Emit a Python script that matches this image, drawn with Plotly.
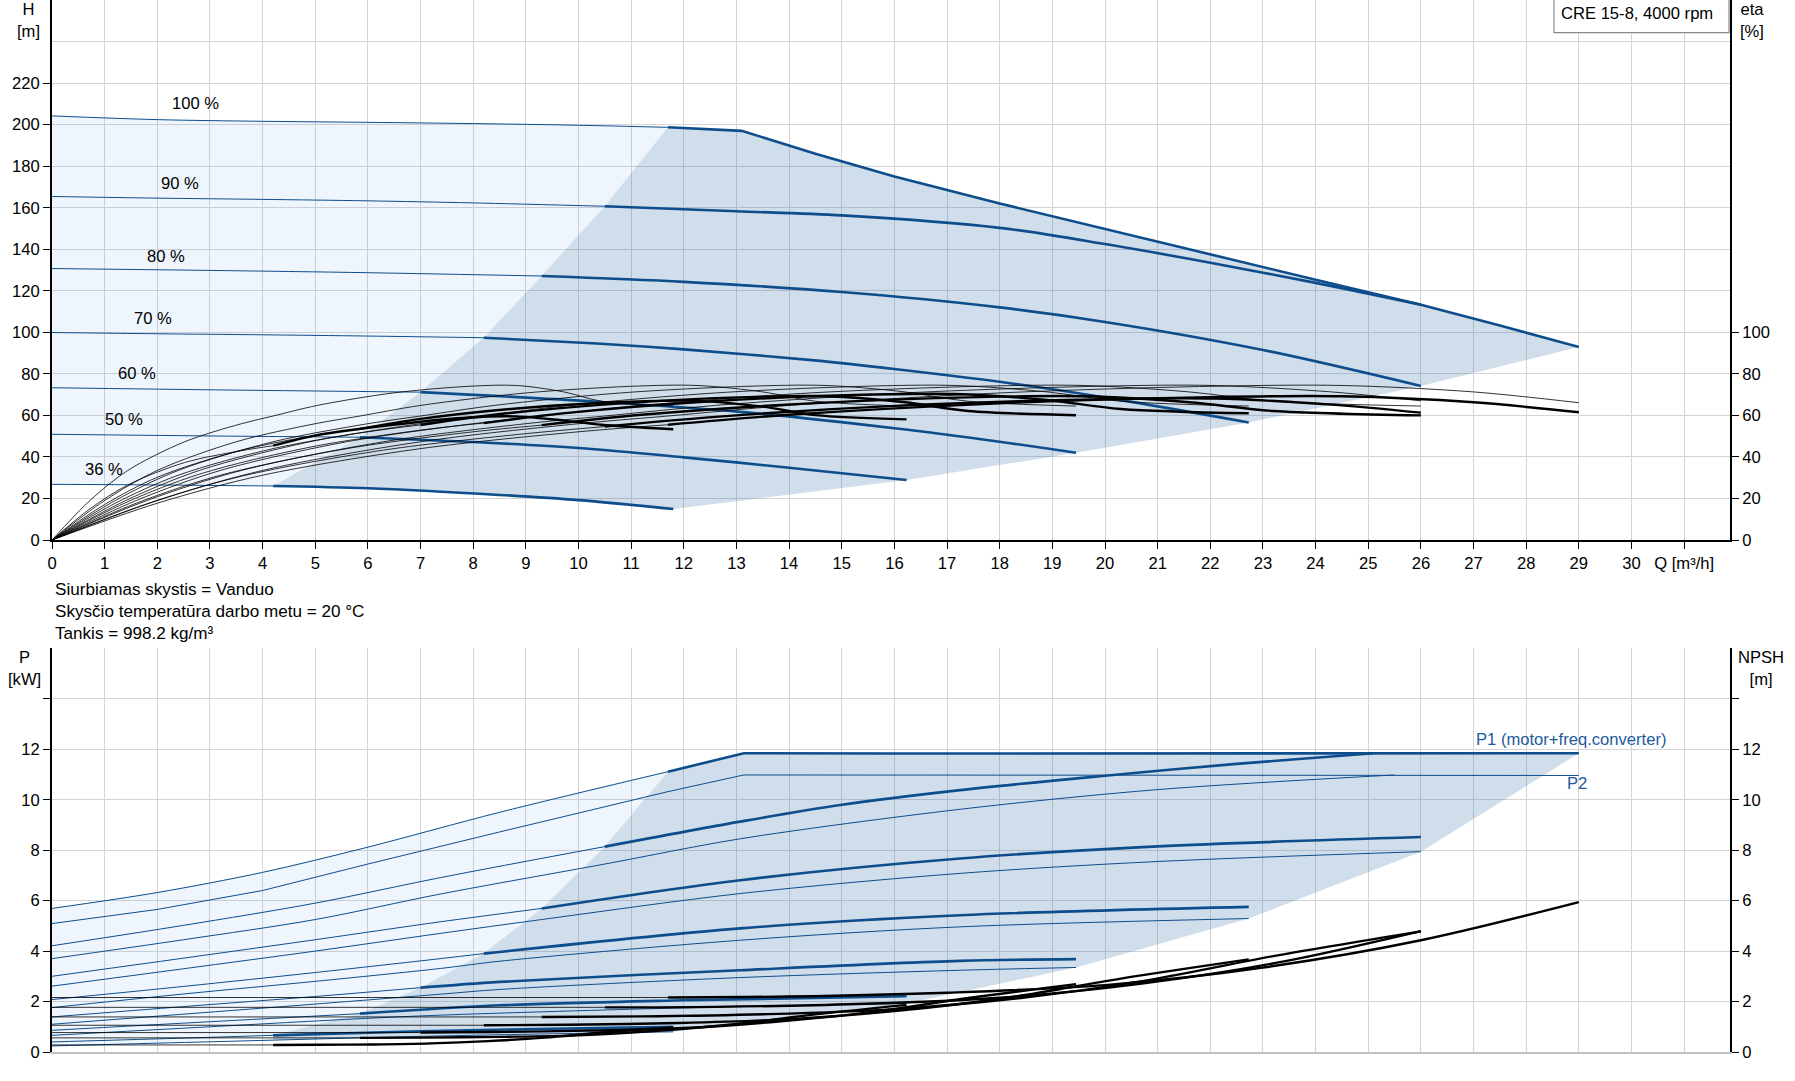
import plotly.graph_objects as go

# canvas / margins (px)
W, HT = 1795, 1081
ML, MR, MT, MB = 52, 65, 0, 29
PW, PH = W - ML - MR, HT - MT - MB

SPEEDS = [100, 90, 80, 70, 60, 50, 36]
SPEED_TEXT = ["100 %", "90 %", "80 %", "70 %", "60 %", "50 %", "36 %"]
# min. flow (start of the bold part) for every speed
QMIN = {100: 11.7, 90: 10.5, 80: 9.3, 70: 8.2, 60: 7.0, 50: 5.85, 36: 4.2}

# QH curves, Q [m3/h] / H [m]
QH_Q = {
    100: [0, 2, 4, 6, 8, 10, 11.7, 13.1, 14.5, 16, 18, 20, 22, 24, 26, 27.5, 29],
    90: [0, 2, 4, 6, 8, 10.5, 13, 15, 18, 20, 22, 24, 26],
    80: [0, 3, 6, 9.3, 12, 15, 18, 20, 23, 26],
    70: [0, 2, 4, 6, 8.2, 10.35, 12, 14.43, 16, 18.45, 20.5, 22.73],
    60: [0, 3.39, 7.0, 10.35, 13.07, 16, 18, 19.45],
    50: [0, 3.39, 5.85, 8, 10, 12, 14, 16.23],
    36: [0, 2, 4.2, 6, 8.5, 10, 11.8],
}
QH_H = {
    100: [204.2, 202.4, 201.6, 201.1, 200.5, 199.7, 198.7, 197.0, 186, 175, 162, 149.7, 137.4, 125.3, 113.3, 103.3, 92.9],
    90: [165.4, 164.6, 164.0, 163.3, 162.3, 160.7, 158.3, 156.3, 150.3, 142.5, 133.5, 123.8, 113.3],
    80: [130.7, 129.8, 128.7, 127.1, 124.3, 119.4, 112.0, 105.0, 91.5, 74.2],
    70: [99.9, 99.3, 98.8, 98.2, 97.4, 94.6, 91.8, 86.6, 82.3, 74.6, 66.5, 56.6],
    60: [73.3, 72.2, 71.2, 66.6, 61.7, 53.8, 47.3, 42.0],
    50: [50.9, 50.0, 49.5, 47.2, 44.3, 39.8, 34.8, 28.9],
    36: [26.8, 26.5, 26.0, 24.9, 21.7, 19.2, 14.9],
}

# efficiency curves, Q [m3/h] / eta [%]  (pump = thin, total = thin + bold)
ETA_Q = {
    100: [0, 2, 4, 7, 10, 11.7, 14, 18, 22, 24.5, 27, 29],
    90: [0, 1.8, 3.6, 6.3, 9, 10.5, 12.6, 16.2, 19.8, 22.05, 24.3, 26],
    80: [0, 1.6, 3.2, 5.6, 8, 9.3, 11.2, 14.4, 17.6, 19.6, 21.6, 23.2, 26],
    70: [0, 1.4, 2.8, 4.9, 7, 8.2, 9.8, 12.6, 15.4, 17.15, 18.9, 20.3, 22.73],
    60: [0, 1.2, 2.4, 4.2, 6, 7.0, 8.4, 10.8, 13.2, 14.7, 16.2, 17.4, 19.45],
    50: [0, 1, 2, 3.5, 5, 5.85, 7, 9, 11, 12.25, 13.5, 14.5, 16.23],
    36: [0, 0.72, 1.44, 2.52, 3.6, 4.2, 5.04, 6.48, 7.92, 8.82, 9.72, 10.44, 11.8],
}
ETA_PUMP = {
    100: [0, 19, 33.5, 47.3, 56, 59.7, 64.8, 70.8, 74, 74.4, 71.3, 66.1],
    90: [0, 19, 33.5, 47.3, 56, 59.7, 64.8, 70.8, 74, 74.4, 71.3, 67],
    80: [0, 19, 33.5, 47.3, 56, 59.7, 64.8, 70.8, 74, 74.4, 71.3, 66.8, 64.5],
    70: [0, 19, 33.5, 47.3, 56, 59.7, 64.8, 70.8, 74, 74.4, 71.3, 66.8, 64.5],
    60: [0, 19, 33.5, 47.3, 56, 59.7, 64.8, 70.8, 74, 74.4, 71.3, 66.8, 64.5],
    50: [0, 19, 33.5, 47.3, 56, 59.7, 64.8, 70.8, 74, 74.4, 71.3, 66.8, 64.5],
    36: [0, 19, 33.5, 47.3, 56, 59.7, 64.8, 70.8, 74, 74.4, 71.3, 66.8, 64.5],
}
ETA_TOTAL = {
    100: [0, 17.7, 31.2, 44, 52.1, 55.5, 60.3, 65.8, 68.8, 69.2, 66.3, 61.5],
    90: [0, 17.4, 30.7, 43.3, 51.2, 54.6, 59.3, 64.8, 67.7, 68.1, 65.2, 61.3],
    80: [0, 17.7, 31.2, 44, 52.1, 55.3, 60.3, 65.8, 68.8, 69.2, 66.3, 62.1, 60],
    70: [0, 18, 31.7, 44.7, 52.9, 56.3, 61.2, 66.9, 69.9, 70.3, 67.4, 63.1, 61],
    60: [0, 17.7, 31.2, 44, 52.1, 55.4, 60.3, 65.8, 68.8, 69.2, 66.3, 62.1, 60.1],
    50: [0, 17.1, 30.2, 42.6, 50.4, 53.5, 58.3, 63.7, 66.6, 67, 64.2, 60.1, 58.1],
    36: [0, 15, 26.5, 37.3, 43, 45.4, 50.5, 55.5, 59, 59.5, 57.5, 55.5, 53.3],
}

# power P1 (motor + converter), Q [m3/h] / P [kW]
P1_Q = {
    100: [0, 2, 4, 6, 8.5, 11.7, 13.14, 16, 20, 24, 29],
    90: [0, 2.5, 5, 7.375, 10.5, 13.07, 14.97, 17.25, 20, 22.5, 25.1],
    80: [0, 2.5, 5, 7.375, 9.3, 13.07, 17.25, 21, 26],
    70: [0, 2.5, 5, 7.375, 8.2, 13.07, 17.25, 22.73],
    60: [0, 2.5, 5, 7.0, 8.51, 13.07, 17.25, 19.45],
    50: [0, 3, 5.85, 8.51, 12, 16.23],
    36: [0, 2, 4.2, 7, 9.5, 11.8],
}
P1_P = {
    100: [5.69, 6.32, 7.12, 8.12, 9.5, 11.11, 11.84, 11.83, 11.83, 11.84, 11.84],
    90: [4.21, 5.02, 5.9, 6.91, 8.14, 9.13, 9.79, 10.38, 10.95, 11.42, 11.84],
    80: [3.0, 3.72, 4.45, 5.16, 5.69, 6.81, 7.67, 8.15, 8.52],
    70: [2.08, 2.6, 3.15, 3.70, 3.90, 4.90, 5.42, 5.75],
    60: [1.39, 1.8, 2.2, 2.55, 2.78, 3.24, 3.61, 3.68],
    50: [0.86, 1.2, 1.52, 1.85, 2.05, 2.21],
    36: [0.40, 0.52, 0.66, 0.82, 0.92, 1.0],
}
# shaft power P2
P2_Q = {
    100: [0, 2, 4, 6, 8.5, 11.7, 13.14, 20, 29],
    90: [0, 2.5, 5, 7.375, 10.5, 13.07, 17.25, 21, 25.5],
    80: [0, 2.5, 5, 7.375, 9.3, 13.07, 17.25, 21, 26],
    70: [0, 2.5, 5, 7.375, 8.51, 13.07, 17.25, 22.73],
    60: [0, 2.5, 5, 7.375, 8.51, 13.07, 17.25, 19.45],
    50: [0, 3, 5.85, 7.375, 12, 16.23],
    36: [0, 2, 4.2, 7, 9.5, 11.8],
}
P2_P = {
    100: [5.09, 5.65, 6.4, 7.45, 8.72, 10.32, 10.98, 10.97, 10.96],
    90: [3.70, 4.45, 5.25, 6.26, 7.45, 8.45, 9.62, 10.4, 10.98],
    80: [2.61, 3.3, 4.0, 4.70, 5.25, 6.28, 7.08, 7.55, 7.94],
    70: [1.76, 2.3, 2.8, 3.31, 3.6, 4.43, 4.96, 5.29],
    60: [1.10, 1.5, 1.9, 2.29, 2.48, 2.95, 3.24, 3.35],
    50: [0.66, 1.0, 1.32, 1.46, 1.75, 1.92],
    36: [0.24, 0.35, 0.47, 0.62, 0.72, 0.8],
}

# NPSH, Q [m3/h] / NPSH [m]
NPSH_Q = {
    100: [0, 11.7, 14, 17, 20, 23, 26, 29],
    90: [0, 10.5, 12.6, 15.3, 18, 20.7, 23.4, 26],
    80: [0, 9.3, 11.2, 13.6, 16, 18.4, 20.8, 23.2, 26],
    70: [0, 8.2, 9.8, 11.9, 14, 16.1, 18.2, 20.3, 22.73],
    60: [0, 7.0, 8.4, 10.2, 12, 13.8, 15.6, 17.4, 19.45],
    50: [0, 5.85, 7, 8.5, 10, 11.5, 13, 14.5, 16.23],
    36: [0, 4.2, 5.04, 6.12, 7.2, 8.28, 9.36, 10.44, 11.8],
}
NPSH_M = {
    100: [2.16, 2.16, 2.2, 2.35, 2.65, 3.35, 4.43, 5.94],
    90: [1.77, 1.77, 1.79, 1.90, 2.15, 2.71, 3.59, 4.79],
    80: [1.39, 1.39, 1.41, 1.50, 1.70, 2.14, 2.84, 3.80, 4.78],
    70: [1.06, 1.06, 1.08, 1.15, 1.30, 1.64, 2.17, 2.91, 3.67],
    60: [0.77, 0.77, 0.79, 0.85, 0.95, 1.21, 1.59, 2.14, 2.69],
    50: [0.56, 0.56, 0.57, 0.60, 0.66, 0.84, 1.11, 1.49, 1.87],
    36: [0.28, 0.28, 0.285, 0.30, 0.34, 0.43, 0.57, 0.77, 0.97],
}

Q_TICKS = list(range(0, 32))
Q_TICKTEXT = [str(v) for v in range(0, 31)] + ["Q [m³/h]"]
LABEL_POS = {100: (2.25, 210.2), 90: (2.04, 171.6), 80: (1.77, 136.7), 70: (1.52, 106.7),
             60: (1.22, 80.2), 50: (0.96, 58.2), 36: (0.58, 34.0)}

BLUE = "#0d4d8c"
FONT = "Liberation Sans, Arial, sans-serif"
FS = 16.6
GRID = "#d4d4d4"
LIGHT = "rgba(100,160,230,0.11)"
DARK = "rgba(40,100,160,0.22)"


def px_x(px):
    return (px - ML) / PW


def px_y(py):
    return (HT - MB - py) / PH


def at(q, v, x):
    return v[q.index(x)]


def thin_part(q, v, qmin):
    pts = [(a, b) for a, b in zip(q, v) if a <= qmin]
    return [p[0] for p in pts], [p[1] for p in pts]


def thick_part(q, v, qmin):
    pts = [(a, b) for a, b in zip(q, v) if a >= qmin]
    return [p[0] for p in pts], [p[1] for p in pts]


def line(fig, x, y, color, width, xa, ya, shape="spline"):
    ln = dict(color=color, width=width, shape=shape)
    if shape == "spline":
        ln["smoothing"] = 0.9
    fig.add_trace(go.Scatter(x=x, y=y, mode="lines", xaxis=xa, yaxis=ya,
                             hoverinfo="skip", line=ln))


def area(fig, x, y, color, xa, ya):
    fig.add_trace(go.Scatter(
        x=x, y=y, mode="lines", fill="toself", fillcolor=color, xaxis=xa, yaxis=ya,
        line=dict(width=0), hoverinfo="skip",
    ))


fig = go.Figure()

# ---- shaded areas, top chart
lo = SPEEDS[1:]                        # 90 .. 36
up = SPEEDS[::-1]                      # 36 .. 100
tq, th = thin_part(QH_Q[100], QH_H[100], QMIN[100])
bq, bh = thin_part(QH_Q[36], QH_H[36], QMIN[36])
lx = tq + [QMIN[s] for s in lo[:-1]] + bq[::-1]
ly = th + [at(QH_Q[s], QH_H[s], QMIN[s]) for s in lo[:-1]] + bh[::-1]
area(fig, lx, ly, LIGHT, "x", "y")

kq, kh = thick_part(QH_Q[100], QH_H[100], QMIN[100])
mq, mh = thick_part(QH_Q[36], QH_H[36], QMIN[36])
dx = [QMIN[s] for s in up] + kq[1:] + [QH_Q[s][-1] for s in [80, 70, 60, 50]] + mq[::-1]
dy = [at(QH_Q[s], QH_H[s], QMIN[s]) for s in up] + kh[1:] + [QH_H[s][-1] for s in [80, 70, 60, 50]] + mh[::-1]
area(fig, dx, dy, DARK, "x", "y")

# ---- shaded areas, bottom chart
tq, tp = thin_part(P1_Q[100], P1_P[100], QMIN[100])
bq = [a for a in P2_Q[36] if a < QMIN[36]]
bp = [b for a, b in zip(P2_Q[36], P2_P[36]) if a < QMIN[36]]
lx = tq + [QMIN[s] for s in lo] + bq[::-1]
ly = tp + [at(P1_Q[s], P1_P[s], QMIN[s]) for s in lo] + bp[::-1]
area(fig, lx, ly, LIGHT, "x2", "y3")

kq, kp = thick_part(P1_Q[100], P1_P[100], QMIN[100])
mq = [a for a in P2_Q[36] if a >= QMIN[36]]
mp = [b for a, b in zip(P2_Q[36], P2_P[36]) if a >= QMIN[36]]
dx = [QMIN[s] for s in up] + kq[1:] + [P2_Q[s][-1] for s in [80, 70, 60, 50]] + mq[::-1]
dy = [at(P1_Q[s], P1_P[s], QMIN[s]) for s in up] + kp[1:] + [P2_P[s][-1] for s in [80, 70, 60, 50]] + mp[::-1]
area(fig, dx, dy, DARK, "x2", "y3")

# ---- thin curves
for s in SPEEDS:
    q, v = thin_part(QH_Q[s], QH_H[s], QMIN[s])
    line(fig, q, v, BLUE, 1, "x", "y")
    line(fig, ETA_Q[s], ETA_PUMP[s], "black", 0.8, "x", "y2")
    q, v = thin_part(ETA_Q[s], ETA_TOTAL[s], QMIN[s])
    line(fig, q, v, "black", 0.8, "x", "y2")
    q, v = thin_part(P1_Q[s], P1_P[s], QMIN[s])
    line(fig, q, v, BLUE, 1, "x2", "y3")
    line(fig, P2_Q[s], P2_P[s], BLUE, 1, "x2", "y3",
         shape="linear" if s == 100 else "spline")
    q, v = thin_part(NPSH_Q[s], NPSH_M[s], QMIN[s])
    line(fig, q, v, "black", 0.8, "x2", "y4")

# ---- bold curves (operating range)
for s in SPEEDS:
    shp = "linear" if s == 100 else "spline"
    q, v = thick_part(QH_Q[s], QH_H[s], QMIN[s])
    line(fig, q, v, BLUE, 2.6, "x", "y", shape=shp)
    q, v = thick_part(ETA_Q[s], ETA_TOTAL[s], QMIN[s])
    line(fig, q, v, "black", 2.4, "x", "y2")
    q, v = thick_part(P1_Q[s], P1_P[s], QMIN[s])
    line(fig, q, v, BLUE, 2.6, "x2", "y3", shape=shp)
    q, v = thick_part(NPSH_Q[s], NPSH_M[s], QMIN[s])
    line(fig, q, v, "black", 2.4, "x2", "y4")

annotations = []
for s, txt in zip(SPEEDS, SPEED_TEXT):
    x, y = LABEL_POS[s]
    annotations.append(dict(x=x, y=y, xref="x", yref="y", text=txt, showarrow=False,
                            xanchor="left", yanchor="middle"))


def note(text, px, py, xanchor="center", color="black", align="center", size=FS):
    annotations.append(dict(x=px_x(px), y=px_y(py), xref="paper", yref="paper", text=text,
                            showarrow=False, xanchor=xanchor, yanchor="middle",
                            align=align, font=dict(color=color, size=size)))


note("H<br>[m]", 28, 20.5)
note("eta<br>[%]", 1752, 20.5)
note("P<br>[kW]", 25, 668.5)
note("NPSH<br>[m]", 1761, 668.5)
note("Siurbiamas skystis = Vanduo<br>Skysčio temperatūra darbo metu = 20 °C<br>Tankis = 998.2 kg/m³",
     53, 611.7, xanchor="left", align="left", size=17.1)
note("CRE 15-8, 4000 rpm", 1559, 14, xanchor="left")
note("P1 (motor+freq.converter)", 1474, 739, xanchor="left", color="#1d5a9e")
note("P2", 1565, 784, xanchor="left", color="#1d5a9e")

shapes = [dict(type="rect", xref="paper", yref="paper", x0=px_x(1554), x1=px_x(1729),
               y0=px_y(32.7), y1=px_y(-2), line=dict(color="#8a8a8a", width=1.2),
               fillcolor="white", layer="above")]

xr = [0, PW / 52.65]
top_dom = [px_y(540), 1.0]
bot_dom = [0, px_y(648.3)]
ax_common = dict(linecolor="black", linewidth=2, ticks="outside", ticklen=7, tickwidth=1.2,
                 tickcolor="black", zeroline=False, showgrid=False)

fig.update_layout(
    width=W, height=HT, margin=dict(l=ML, r=MR, t=MT, b=MB),
    paper_bgcolor="white", plot_bgcolor="white", showlegend=False, hovermode=False,
    font=dict(family=FONT, size=FS, color="black"),
    annotations=annotations, shapes=shapes,
    xaxis=dict(domain=[0, 1], range=xr, anchor="y", tickmode="array", tickvals=Q_TICKS,
               ticktext=Q_TICKTEXT, showline=True, linecolor="black", linewidth=2,
               ticks="outside", ticklen=7, tickcolor="black", showgrid=True, gridcolor=GRID,
               zeroline=False),
    yaxis=dict(domain=top_dom, range=[0, 260], anchor="x", tickmode="array",
               tickvals=list(range(0, 240, 20)), showline=True, linecolor="black", linewidth=2,
               ticks="outside", ticklen=7, tickcolor="black", showgrid=True, gridcolor=GRID,
               zeroline=False,
               minor=dict(tickmode="array", tickvals=[240, 260], showgrid=True,
                          gridcolor=GRID, ticks="")),
    yaxis2=dict(overlaying="y", side="right", anchor="x", range=[0, 260], tickmode="array",
                tickvals=list(range(0, 120, 20)), showline=True, **ax_common),
    xaxis2=dict(domain=[0, 1], range=xr, anchor="y3", tickmode="array", tickvals=Q_TICKS,
                showticklabels=False, ticks="", showline=True, linecolor="#c0c0c0",
                linewidth=2, showgrid=True, gridcolor=GRID, zeroline=False),
    yaxis3=dict(domain=bot_dom, range=[0, 16], anchor="x2", tickmode="array",
                tickvals=list(range(0, 16, 2)),
                ticktext=[str(v) for v in range(0, 14, 2)] + [""],
                showline=True, linecolor="black", linewidth=2, ticks="outside", ticklen=7,
                tickcolor="black", showgrid=True, gridcolor=GRID, zeroline=False,
                minor=dict(tickmode="array", tickvals=[16], showgrid=True,
                           gridcolor="#bdbdbd", ticks="")),
    yaxis4=dict(overlaying="y3", side="right", anchor="x2", range=[0, 16], tickmode="array",
                tickvals=list(range(0, 16, 2)),
                ticktext=[str(v) for v in range(0, 14, 2)] + [""],
                showline=True, **ax_common),
)

# the page's default body margin would shift the figure by 8 px
fig.write_html("out.html", config={"displayModeBar": False},
               post_script="document.body.style.margin = '0px';")
